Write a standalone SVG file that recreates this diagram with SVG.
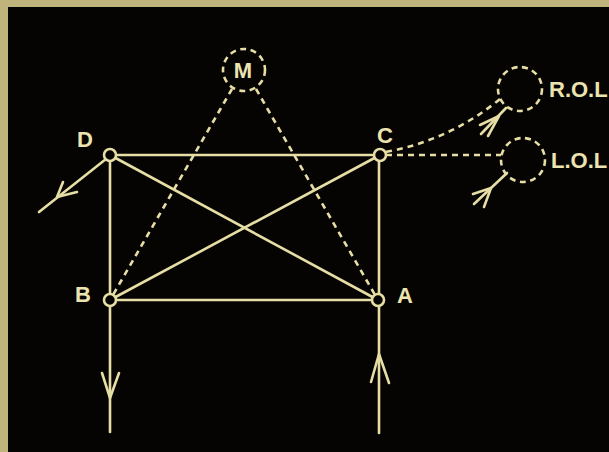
<svg xmlns="http://www.w3.org/2000/svg" width="609" height="452" viewBox="0 0 609 452">
<style>
.ln{stroke:#e6dea4;stroke-width:2.6;fill:none;stroke-linecap:round;stroke-linejoin:round}
.ds{stroke:#e6dea4;stroke-width:2.6;fill:none;stroke-dasharray:6 5}
.nd{stroke:#e6dea4;stroke-width:2.6;fill:#050403}
.dc{stroke:#e6dea4;stroke-width:2.6;fill:none;stroke-dasharray:6 4.5}
.tx{font-family:"Liberation Sans",Arial,sans-serif;font-weight:bold;font-size:22px;fill:#ece4b0}
</style>
<rect width="609" height="452" fill="#bfb47c"/>
<rect x="8" y="7" width="601" height="445" fill="#050403"/>
<g id="connectors">
<line class="ln" x1="110" y1="155" x2="380" y2="155"/>
<line class="ln" x1="110" y1="300" x2="378" y2="300"/>
<line class="ln" x1="110" y1="155" x2="110" y2="432"/>
<line class="ln" x1="379" y1="155" x2="379" y2="433"/>
<line class="ln" x1="110" y1="155" x2="378" y2="300"/>
<line class="ln" x1="110" y1="300" x2="380" y2="155"/>
<line class="ln" x1="106" y1="159" x2="39" y2="212"/>
<polyline class="ln" points="63,182 57,197 77,192"/>
<polyline class="ln" points="102,373 110,398 119,373"/>
<polyline class="ln" points="371,382 379,354 389,383"/>
<line class="ds" x1="232" y1="89" x2="113" y2="295"/>
<line class="ds" x1="256" y1="89" x2="375" y2="295"/>
<path class="ds" d="M386,152 Q450,140 500,99"/>
<line class="ds" x1="386" y1="155" x2="501" y2="155"/>
<line class="ln" x1="506" y1="108" x2="481" y2="134"/>
<polyline class="ln" points="480,125 499,116 488,136"/>
<line class="ln" x1="507" y1="173" x2="474" y2="204"/>
<polyline class="ln" points="473,194 491,188 484,207"/>
</g>
<g id="node-D"><circle class="nd" cx="110" cy="155" r="6"/><text class="tx" x="85" y="147" text-anchor="middle">D</text></g>
<g id="node-C"><circle class="nd" cx="380" cy="155" r="6"/><text class="tx" x="385" y="143" text-anchor="middle">C</text></g>
<g id="node-B"><circle class="nd" cx="110" cy="300" r="6"/><text class="tx" x="83" y="302" text-anchor="middle">B</text></g>
<g id="node-A"><circle class="nd" cx="378" cy="300" r="6"/><text class="tx" x="405" y="303" text-anchor="middle">A</text></g>
<g id="node-M"><circle class="dc" cx="244" cy="70" r="21"/><text class="tx" x="243" y="78" text-anchor="middle">M</text></g>
<g id="node-ROL"><circle class="dc" cx="520" cy="89" r="22"/><text class="tx" x="549" y="97">R.O.L</text></g>
<g id="node-LOL"><circle class="dc" cx="523" cy="160" r="22"/><text class="tx" x="551" y="168">L.O.L</text></g>
</svg>
